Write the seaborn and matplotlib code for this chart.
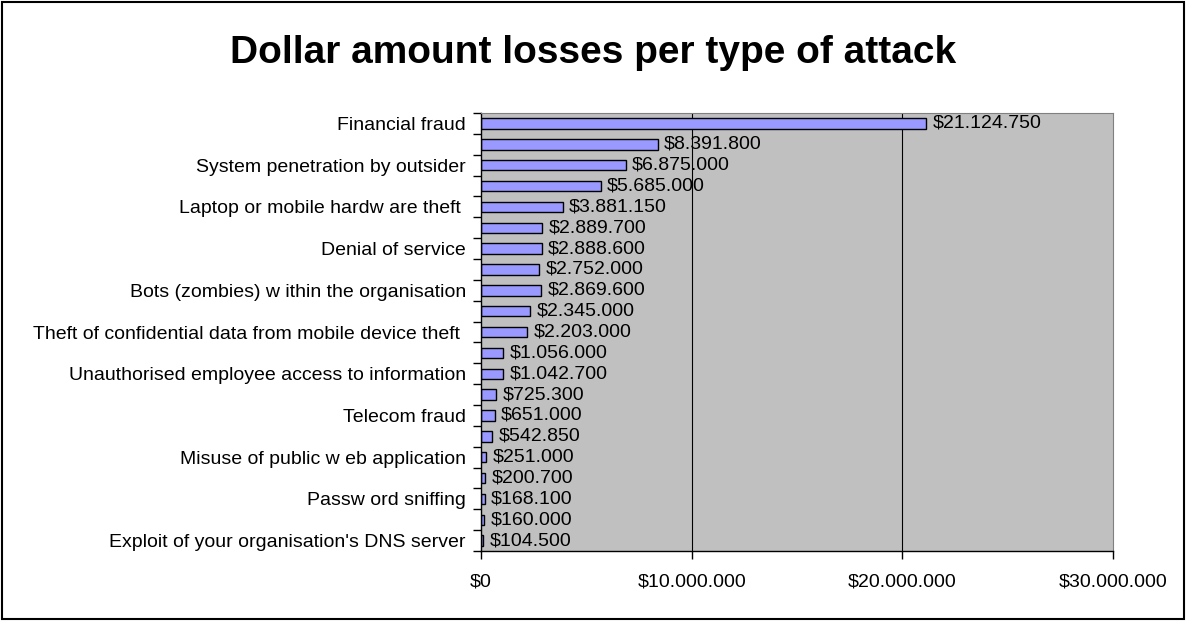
import matplotlib
matplotlib.use("Agg")
import matplotlib.pyplot as plt
import seaborn as sns
import numpy as np

# attack types, top to bottom (only every other label is printed on the chart)
attack_types = [
    "Financial fraud", "",
    "System penetration by outsider", "",
    "Laptop or mobile hardw are theft ", "",
    "Denial of service", "",
    "Bots (zombies) w ithin the organisation", "",
    "Theft of confidential data from mobile device theft ", "",
    "Unauthorised employee access to information", "",
    "Telecom fraud", "",
    "Misuse of public w eb application", "",
    "Passw ord sniffing", "",
    "Exploit of your organisation's DNS server",
]
losses = [21124750, 8391800, 6875000, 5685000, 3881150, 2889700, 2888600,
          2752000, 2869600, 2345000, 2203000, 1056000, 1042700, 725300,
          651000, 542850, 251000, 200700, 168100, 160000, 104500]
x_ticks = [0, 10000000, 20000000, 30000000]


def money(v):
    return "$" + f"{v:,}".replace(",", ".")


sns.set_style("white")
plt.rcParams["font.family"] = ["Liberation Sans", "DejaVu Sans"]
plt.rcParams["text.color"] = "black"
plt.rcParams["xtick.color"] = "black"
plt.rcParams["ytick.color"] = "black"

fig = plt.figure(figsize=(11.86, 6.21), dpi=100)
ax = fig.add_axes([0.4056, 0.1127, 0.5329, 0.7053])

slots = [str(i) for i in range(len(losses))]
sns.barplot(x=losses, y=slots, orient="h", color="#9999FF", saturation=1,
            width=0.5, edgecolor="black", linewidth=1, ax=ax)

ax.set_facecolor("#C0C0C0")
ax.set_xlim(0, 30000000)
ax.set_ylim(len(losses) - 0.5, -0.5)

ax.set_xticks(x_ticks)
ax.set_xticklabels([money(t) for t in x_ticks], fontsize=14)
ax.tick_params(axis="x", bottom=True, direction="out", length=6, width=1, pad=10)
for t in x_ticks[1:3]:
    ax.axvline(t, color="black", linewidth=0.8, zorder=0.5)

ax.set_yticks(range(len(losses)))
ax.set_yticklabels(attack_types, fontsize=14)
ax.tick_params(axis="y", which="major", left=True, length=0, pad=11)
ax.set_yticks(np.arange(-0.5, len(losses)), minor=True)
ax.tick_params(axis="y", which="minor", left=True, direction="out", length=6, width=1)
ax.set_xlabel("")
ax.set_ylabel("")

for side in ["top", "right"]:
    ax.spines[side].set_color("#808080")
    ax.spines[side].set_linewidth(0.8)
for side in ["left", "bottom"]:
    ax.spines[side].set_color("black")
    ax.spines[side].set_linewidth(1)

for i, v in enumerate(losses):
    ax.text(v + 300000, i, money(v), va="center", ha="left", fontsize=14)

fig.text(0.5, 0.915, "Dollar amount losses per type of attack",
         ha="center", va="center", fontsize=28, fontweight="bold")

fig.patches.append(plt.Rectangle((0.002, 0.003), 0.996, 0.994, transform=fig.transFigure,
                                 fill=False, edgecolor="black", linewidth=1.5))

fig.savefig("out.png", dpi=100)
